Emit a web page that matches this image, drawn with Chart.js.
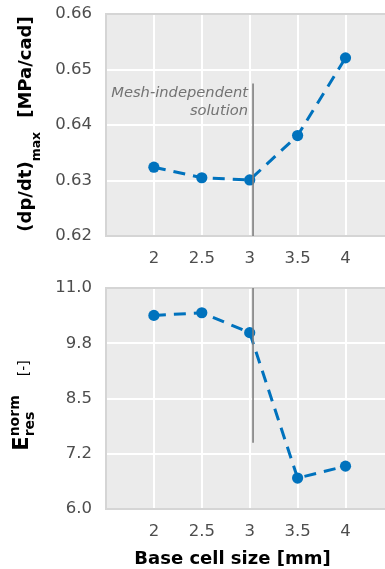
<!DOCTYPE html>
<html>
<head>
<meta charset="utf-8">
<script src="https://cdn.jsdelivr.net/npm/chart.js@4.4.1/dist/chart.umd.min.js"></script>
<style>
  html, body { margin: 0; padding: 0; background: #ffffff; width: 385px; height: 569px; overflow: hidden; }
  .panel { position: absolute; left: 0; width: 399px; }
  .panel canvas { display: block; width: 399px; }
</style>
</head>
<body>
<div class="panel" style="top:0;height:270px"><canvas id="dpdtChart" width="399" height="270" style="height:270px"></canvas></div>
<div class="panel" style="top:270px;height:299px"><canvas id="energyChart" width="399" height="299" style="height:299px"></canvas></div>
<script>
// Grid study: base cell size vs. peak pressure-rise rate and normalised residual energy
const baseCellSize = [2, 2.5, 3, 3.5, 4];
const dpdtMax = [0.6324, 0.6305, 0.6301, 0.6381, 0.6521];
const energyResNorm = [10.38, 10.44, 9.99, 6.70, 6.97];

const xTicks = [2, 2.5, 3, 3.5, 4];
const dpdtTicks = [0.62, 0.63, 0.64, 0.65, 0.66];
const dpdtTickLabels = ['0.62', '0.63', '0.64', '0.65', '0.66'];
const energyTicks = [6, 7.25, 8.5, 9.75, 11];
const energyTickLabels = ['6.0', '7.2', '8.5', '9.8', '11.0'];

// chosen mesh marker
const meshIndependentSize = 3.035;
const meshLineDpdt = [0.62, 0.6475];
const meshLineEnergy = [11, 7.5];

const FONT = "'DejaVu Sans', sans-serif";
const BLUE = '#0072bd';
const PANEL_BG = '#ebebeb';
const FRAME = '#d5d5d5';
const TICK_TEXT = '#4d4d4d';

Chart.defaults.font.family = FONT;

const panelBackground = {
  id: 'panelBackground',
  beforeDraw(chart) {
    const { ctx, chartArea: a } = chart;
    ctx.save();
    ctx.fillStyle = PANEL_BG;
    ctx.fillRect(a.left, a.top, a.right - a.left, a.bottom - a.top);
    ctx.restore();
  }
};

// draws rotated axis titles with sub/superscripts
function drawVerticalRich(ctx, baseX, centerY, runs) {
  ctx.save();
  const widths = runs.map(r => {
    if (r.gap) return r.gap;
    if (r.stack) {
      return Math.max(...r.stack.map(s => { ctx.font = s.font; return ctx.measureText(s.text).width; }));
    }
    ctx.font = r.font;
    return ctx.measureText(r.text).width;
  });
  const total = widths.reduce((a, b) => a + b, 0);
  ctx.translate(baseX, centerY);
  ctx.rotate(-Math.PI / 2);
  ctx.fillStyle = '#000000';
  ctx.textBaseline = 'alphabetic';
  ctx.textAlign = 'left';
  let x = -total / 2;
  runs.forEach((r, i) => {
    if (r.stack) {
      r.stack.forEach(s => { ctx.font = s.font; ctx.fillText(s.text, x, s.dy); });
    } else if (!r.gap) {
      ctx.font = r.font;
      ctx.fillText(r.text, x, r.dy || 0);
    }
    x += widths[i];
  });
  ctx.restore();
}

function makeChart(canvasId, values, yTicks, yLabels, meshLine, extra) {
  const yMin = yTicks[0], yMax = yTicks[yTicks.length - 1];
  return new Chart(document.getElementById(canvasId), {
    type: 'line',
    data: {
      datasets: [
        {
          data: [{ x: meshIndependentSize, y: meshLine[0] }, { x: meshIndependentSize, y: meshLine[1] }],
          borderColor: '#7f7f7f',
          borderWidth: 1.6,
          pointRadius: 0,
          order: 0
        },
        {
          data: baseCellSize.map((x, i) => ({ x, y: values[i] })),
          borderColor: BLUE,
          backgroundColor: BLUE,
          borderWidth: 3,
          borderDash: [12, 8],
          pointRadius: 5.6,
          pointBorderWidth: 0,
          pointHoverRadius: 5.6,
          tension: 0,
          order: 1
        }
      ]
    },
    options: {
      responsive: false,
      animation: false,
      events: [],
      layout: { padding: { top: extra.padTop, left: 0, right: 0, bottom: 0 } },
      plugins: { legend: { display: false }, tooltip: { enabled: false } },
      scales: {
        x: {
          type: 'linear',
          min: 1.5,
          max: 4.5,
          afterBuildTicks: s => { s.ticks = xTicks.map(v => ({ value: v })); },
          afterFit: s => { s.height = extra.xAxisHeight; s.paddingLeft = 0; s.paddingRight = 0; },
          grid: { color: '#ffffff', lineWidth: 2, drawTicks: false },
          border: { display: true, color: FRAME, width: 2 },
          ticks: {
            autoSkip: false, maxRotation: 0, padding: 13,
            color: TICK_TEXT, font: { size: 16.5 },
            callback: v => String(v)
          }
        },
        y: {
          type: 'linear',
          min: yMin,
          max: yMax,
          afterBuildTicks: s => { s.ticks = yTicks.map(v => ({ value: v })); },
          afterFit: s => { s.width = 106; s.paddingTop = 0; s.paddingBottom = 0; },
          grid: {
            color: c => (c.tick && (c.tick.value === yMin || c.tick.value === yMax)) ? FRAME : '#ffffff',
            lineWidth: 2, drawTicks: false
          },
          border: { display: true, color: FRAME, width: 2 },
          ticks: {
            autoSkip: false, padding: 14,
            color: TICK_TEXT, font: { size: 16.5 },
            callback: v => yLabels[yTicks.indexOf(v)]
          }
        }
      }
    },
    plugins: [panelBackground, { id: 'titles', afterDraw: extra.afterDraw }]
  });
}

makeChart('dpdtChart', dpdtMax, dpdtTicks, dpdtTickLabels, meshLineDpdt, {
  padTop: 14,
  xAxisHeight: 34,
  afterDraw(chart) {
    const { ctx, scales } = chart;
    drawVerticalRich(ctx, 30.5, 124, [
      { text: '(dp/dt)', font: 'bold 18px ' + FONT },
      { text: 'max', font: 'bold 12.5px ' + FONT, dy: 9 },
      { gap: 14 },
      { text: '[MPa/cad]', font: 'bold 18px ' + FONT }
    ]);
    // annotation beside the chosen mesh marker
    const x = scales.x.getPixelForValue(meshIndependentSize) - 5;
    const yTop = scales.y.getPixelForValue(meshLineDpdt[1]);
    ctx.save();
    ctx.font = 'oblique 14.7px ' + FONT;
    ctx.fillStyle = '#737373';
    ctx.textAlign = 'right';
    ctx.textBaseline = 'alphabetic';
    ctx.fillText('Mesh-independent', x, yTop + 13.5);
    ctx.fillText('solution', x, yTop + 31.5);
    ctx.restore();
  }
});

makeChart('energyChart', energyResNorm, energyTicks, energyTickLabels, meshLineEnergy, {
  padTop: 18,
  xAxisHeight: 60,
  afterDraw(chart) {
    const { ctx, chartArea } = chart;
    drawVerticalRich(ctx, 28, 135.5, [
      { text: 'E', font: 'bold 21px ' + FONT },
      { stack: [
        { text: 'norm', font: 'bold 14px ' + FONT, dy: -9 },
        { text: 'res', font: 'bold 14px ' + FONT, dy: 6 }
      ] },
      { gap: 19 },
      { text: '[-]', font: '14px ' + FONT }
    ]);
    ctx.save();
    ctx.font = 'bold 18px ' + FONT;
    ctx.fillStyle = '#000000';
    ctx.textAlign = 'center';
    ctx.textBaseline = 'alphabetic';
    ctx.fillText('Base cell size [mm]', chartArea.left + 126.5, chartArea.bottom + 55);
    ctx.restore();
  }
});
</script>
</body>
</html>
